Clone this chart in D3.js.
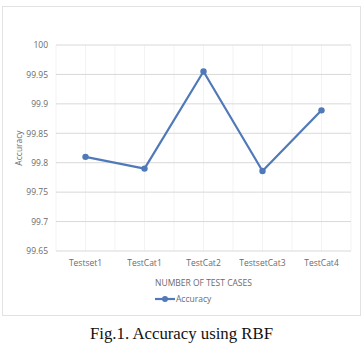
<!DOCTYPE html>
<html>
<head>
<meta charset="utf-8">
<script src="https://cdn.jsdelivr.net/npm/d3@7"></script>
<style>
  html, body { margin: 0; padding: 0; background: #fff; }
  svg text { font-family: 'Open Sans', 'Liberation Sans', sans-serif; fill: #6b6b6b; }
</style>
</head>
<body>
<svg id="chart" width="362" height="344"></svg>
<script>
const categories = ['Testset1', 'TestCat1', 'TestCat2', 'TestsetCat3', 'TestCat4']
const accuracy = [99.81, 99.79, 99.955, 99.786, 99.889]
const yTicks = [99.65, 99.7, 99.75, 99.8, 99.85, 99.9, 99.95, 100]

const svg = d3.select('#chart')
const plotLeft = 56, plotRight = 351, plotTop = 45, plotBottom = 251

// chart frame
svg.append('rect')
  .attr('x', 2.5).attr('y', 6.5).attr('width', 358).attr('height', 309)
  .attr('fill', 'none').attr('stroke', '#e2e2e2')

const x = d3.scaleBand().domain(categories).range([plotLeft, plotRight])
const y = d3.scaleLinear().domain([99.65, 100]).range([plotBottom, plotTop])

// faint minor vertical lines
const half = x.bandwidth() / 2
const minor = d3.range(plotLeft, plotRight + 1, half)
svg.append('g').selectAll('line').data(minor).enter().append('line')
  .attr('x1', d => d).attr('x2', d => d)
  .attr('y1', plotTop).attr('y2', plotBottom)
  .attr('stroke', '#f3f3f3')

// horizontal grid
svg.append('g').selectAll('line').data(yTicks).enter().append('line')
  .attr('x1', plotLeft).attr('x2', plotRight)
  .attr('y1', d => y(d)).attr('y2', d => y(d))
  .attr('stroke', '#d9d9d9').attr('stroke-width', 1)

const yAxis = svg.append('g')
  .attr('transform', 'translate(' + plotLeft + ',0)')
  .call(d3.axisLeft(y).tickValues(yTicks).tickSize(0).tickPadding(8).tickFormat(d => +d.toFixed(2) + ''))
yAxis.select('.domain').remove()
yAxis.selectAll('text').style('font-size', '8.5px').attr('fill', '#6b6b6b')

const xAxis = svg.append('g')
  .attr('transform', 'translate(0,' + plotBottom + ')')
  .call(d3.axisBottom(x).tickSize(0).tickPadding(9))
xAxis.select('.domain').remove()
xAxis.selectAll('text').style('font-size', '8.5px').attr('fill', '#6b6b6b')

const line = d3.line()
  .x((d, i) => x(categories[i]) + half)
  .y(d => y(d))

svg.append('path')
  .datum(accuracy)
  .attr('d', line)
  .attr('fill', 'none')
  .attr('stroke', '#4f79b8')
  .attr('stroke-width', 2.2)
  .attr('stroke-linejoin', 'round')

svg.append('g').selectAll('circle').data(accuracy).enter().append('circle')
  .attr('cx', (d, i) => x(categories[i]) + half)
  .attr('cy', d => y(d))
  .attr('r', 3.2)
  .attr('fill', '#4f79b8')

// axis titles
svg.append('text')
  .attr('x', (plotLeft + plotRight) / 2).attr('y', 286)
  .attr('text-anchor', 'middle')
  .style('font-size', '8.5px')
  .text('NUMBER OF TEST CASES')

svg.append('text')
  .attr('transform', 'translate(22,' + (plotTop + plotBottom) / 2 + ') rotate(-90)')
  .attr('text-anchor', 'middle')
  .style('font-size', '8.5px')
  .text('Accuracy')

// legend
const lg = svg.append('g').attr('transform', 'translate(155,299)')
lg.append('line').attr('x1', 0).attr('x2', 20).attr('y1', 0).attr('y2', 0)
  .attr('stroke', '#4f79b8').attr('stroke-width', 2.2)
lg.append('circle').attr('cx', 10).attr('cy', 0).attr('r', 3).attr('fill', '#4f79b8')
lg.append('text').attr('x', 21).attr('y', 3).style('font-size', '8.5px').text('Accuracy')

// caption
svg.append('text')
  .attr('x', 90).attr('y', 339)
  .attr('textLength', 183)
  .attr('lengthAdjust', 'spacingAndGlyphs')
  .style('font-family', "'Liberation Serif', 'DejaVu Serif', serif")
  .style('font-size', '16px')
  .style('fill', '#111')
  .text('Fig.1. Accuracy using RBF')
</script>
</body>
</html>
